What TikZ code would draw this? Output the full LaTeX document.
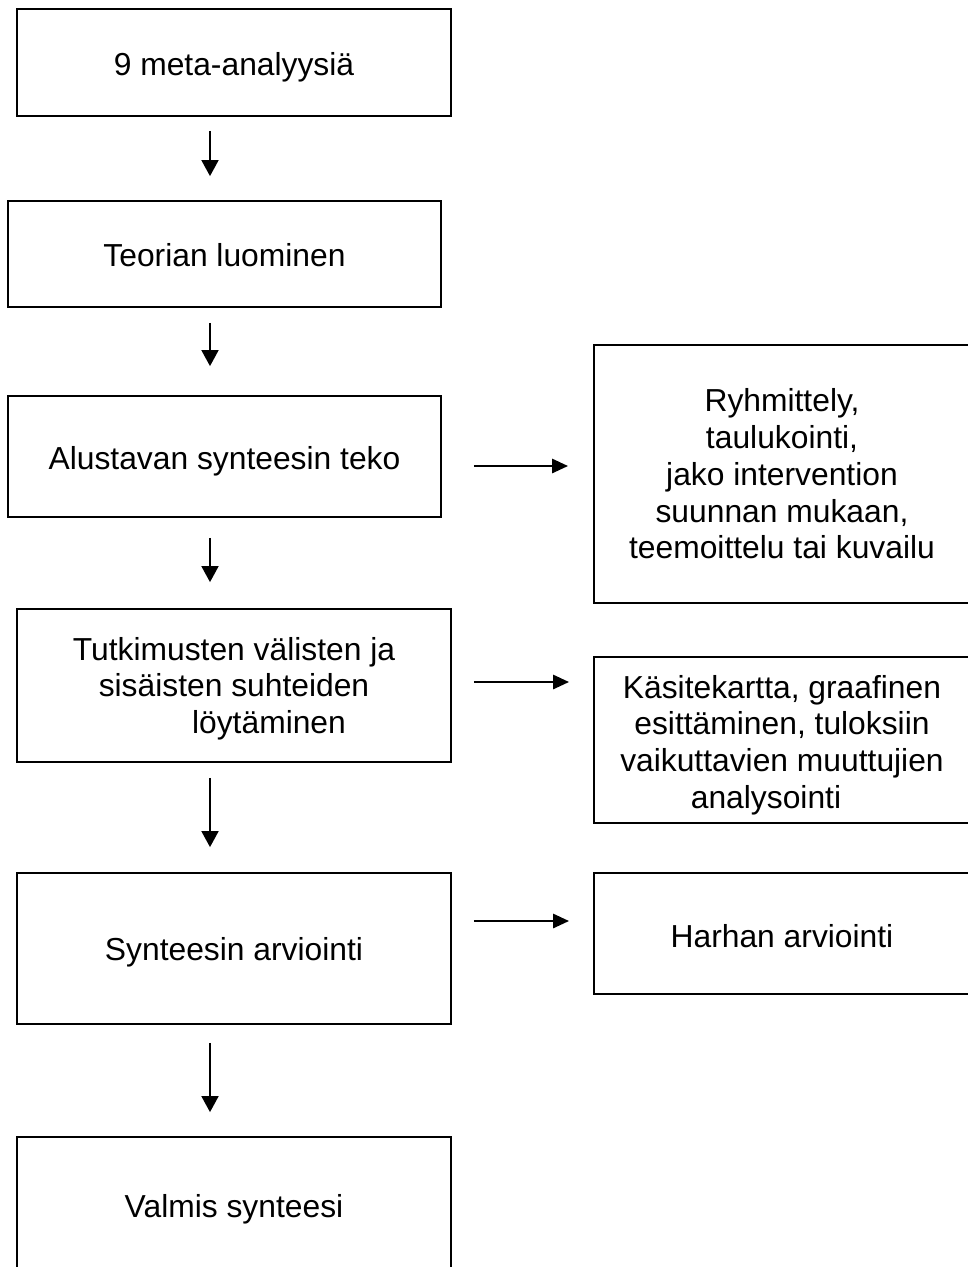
\documentclass[tikz,border=0pt]{standalone}
\usepackage{fontspec}
\setmainfont{Liberation Sans}
\usetikzlibrary{arrows.meta}
\newcommand\dropby[2]{\raisebox{-#1}[\height][\depth]{#2}}
\begin{document}
\begin{tikzpicture}[x=1pt,y=-1pt,
  box/.style={draw=black,line width=1.8pt,rectangle,inner sep=0pt,align=center,
    font=\fontsize{31.8}{36.8}\selectfont},
  varrow/.style={line width=1.8pt,-{Triangle[length=16pt,width=17pt]}},
  harrow/.style={line width=2.8pt,-{Triangle[length=16pt,width=14pt]}}]
\useasboundingbox[fill=white] (0,0) rectangle (967,1267);
% left column
\node[box,minimum width=434pt,minimum height=107pt] (b1) at (234,62.5) {\dropby{5pt}{9 meta-analyysiä}};
\node[box,minimum width=433pt,minimum height=106pt] (b2) at (224.5,254) {\dropby{1pt}{Teorian luominen}};
\node[box,minimum width=433pt,minimum height=121pt] (b3) at (224.5,456.5) {\dropby{5pt}{Alustavan synteesin teko}};
\node[box,minimum width=434pt,minimum height=153pt] (b4) at (234,685.5) {\dropby{4pt}{\begin{tabular}{@{}c@{}}Tutkimusten välisten ja\\sisäisten suhteiden\\\hspace*{70pt}löytäminen\end{tabular}}};
\node[box,minimum width=434pt,minimum height=151pt] (b5) at (234,948.5) {\dropby{4pt}{Synteesin arviointi}};
\node[box,minimum width=434pt,minimum height=136pt] (b6) at (234,1205) {\dropby{4pt}{Valmis synteesi}};
% right column
\node[box,minimum width=376pt,minimum height=258pt] (r1) at (782,474) {Ryhmittely,\\taulukointi,\\jako intervention\\suunnan mukaan,\\teemoittelu tai kuvailu};
\node[box,minimum width=376pt,minimum height=166pt] (r2) at (782,740) {\dropby{6pt}{\begin{tabular}{@{}c@{}}Käsitekartta, graafinen\\esittäminen, tuloksiin\\vaikuttavien muuttujien\\analysointi\hspace*{32pt}\end{tabular}}};
\node[box,minimum width=376pt,minimum height=121pt] (r3) at (782,933.5) {\dropby{3pt}{Harhan arviointi}};
% helper coordinates
\coordinate (ax) at (210,0);
\coordinate (h1) at (0,466);
\coordinate (h2) at (0,682);
\coordinate (h3) at (0,921);
% vertical arrows
\draw[varrow,shorten <=14pt,shorten >=24pt] (b1.south -| ax) -- (b2.north -| ax);
\draw[varrow,shorten <=15pt,shorten >=29pt] (b2.south -| ax) -- (b3.north -| ax);
\draw[varrow,shorten <=20pt,shorten >=26pt] (b3.south -| ax) -- (b4.north -| ax);
\draw[varrow,shorten <=15pt,shorten >=25pt] (b4.south -| ax) -- (b5.north -| ax);
\draw[varrow,shorten <=18pt,shorten >=24pt] (b5.south -| ax) -- (b6.north -| ax);
% horizontal arrows
\draw[harrow,shorten <=32pt,shorten >=25pt] (b3.east |- h1) -- (r1.west |- h1);
\draw[harrow,shorten <=22pt,shorten >=24pt] (b4.east |- h2) -- (r2.west |- h2);
\draw[harrow,shorten <=22pt,shorten >=24pt] (b5.east |- h3) -- (r3.west |- h3);
\end{tikzpicture}
\end{document}
